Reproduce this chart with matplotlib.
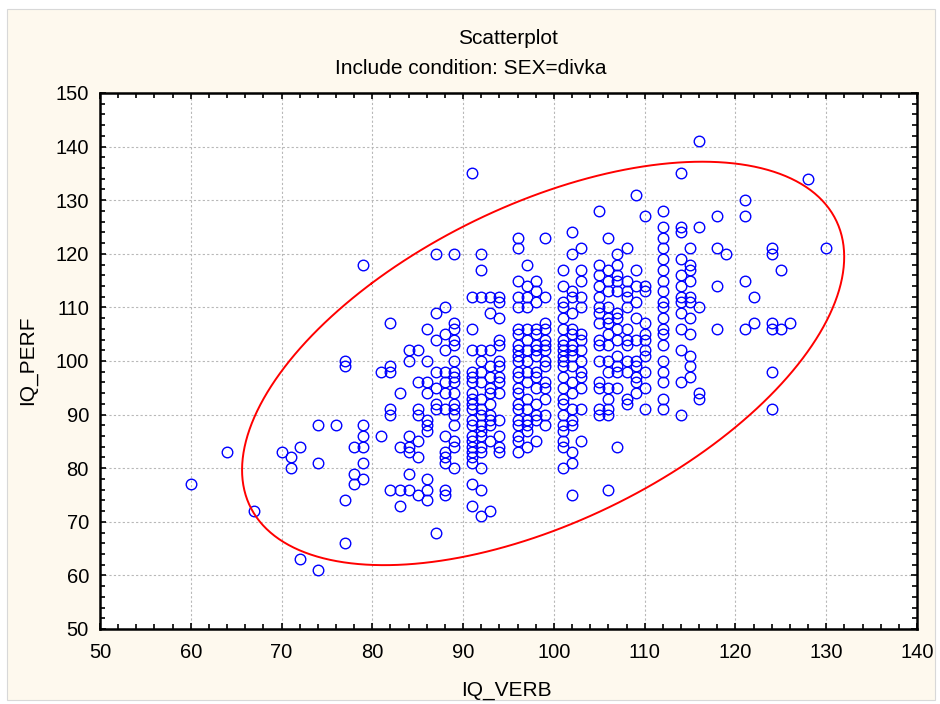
import numpy as np
import matplotlib
matplotlib.use("Agg")
import matplotlib.pyplot as plt
from matplotlib.patches import Rectangle
from matplotlib.ticker import MultipleLocator

plt.rcParams['font.family'] = ['Liberation Sans', 'DejaVu Sans']

title = "Scatterplot"
subtitle = "Include condition: SEX=divka"
x_label = "IQ_VERB"
y_label = "IQ_PERF"

# IQ_VERB value -> list of IQ_PERF values
columns = {
    60: [77],
    64: [83],
    67: [72],
    70: [83],
    71: [82, 80],
    72: [84, 63],
    74: [88, 81, 61],
    76: [88],
    77: [100, 99, 74, 66],
    78: [84, 79, 77],
    79: [118, 88, 86, 84, 81, 78],
    81: [98, 86],
    82: [107, 99, 98, 91, 90, 76],
    83: [94, 84, 76, 73],
    84: [102, 100, 86, 84, 83, 79, 76],
    85: [102, 96, 91, 90, 85, 82, 75],
    86: [106, 100, 96, 94, 89, 88, 87, 78, 76, 74],
    87: [120, 109, 104, 98, 95, 92, 91, 68],
    88: [110, 105, 102, 98, 96, 94, 91, 86, 83, 82, 81, 76, 75],
    89: [120, 107, 106, 104, 103, 100, 98, 97, 96, 94, 92, 91, 90, 88, 85, 84, 80],
    91: [135, 112, 106, 102, 98, 97, 96, 94, 93, 92, 91, 89, 88, 86, 85, 84, 83, 82, 81, 77, 73],
    92: [120, 117, 112, 102, 100, 98, 96, 93, 91, 90, 88, 87, 86, 84, 83, 80, 76, 71],
    93: [112, 109, 102, 99, 97, 95, 94, 92, 90, 89, 88, 85, 72],
    94: [112, 111, 108, 104, 103, 100, 99, 97, 96, 94, 89, 86, 84, 83],
    96: [123, 121, 115, 112, 110, 106, 105, 103, 102, 101, 100, 98, 97, 95, 94, 92, 91, 89, 88, 86, 85, 83],
    97: [118, 114, 112, 110, 106, 104, 102, 100, 98, 96, 93, 91, 89, 88, 87, 84],
    98: [115, 113, 111, 106, 105, 103, 102, 101, 98, 97, 95, 92, 90, 89, 85],
    99: [123, 112, 107, 106, 104, 103, 102, 100, 99, 96, 95, 93, 90, 88],
    101: [117, 114, 111, 110, 108, 106, 104, 103, 102, 101, 100, 99, 97, 95, 93, 92, 90, 88, 87, 85, 84, 80],
    102: [124, 120, 113, 112, 109, 106, 105, 103, 102, 101, 99, 96, 94, 91, 89, 88, 83, 81, 75],
    103: [121, 117, 115, 112, 110, 105, 104, 102, 100, 98, 97, 95, 91, 85],
    105: [128, 118, 116, 114, 112, 110, 109, 107, 104, 103, 100, 96, 95, 91, 90],
    106: [123, 117, 115, 113, 110, 108, 107, 105, 103, 100, 98, 95, 93, 91, 90, 76],
    107: [120, 118, 116, 115, 113, 109, 108, 106, 104, 101, 99, 98, 95, 84],
    108: [121, 115, 113, 112, 110, 106, 104, 103, 100, 98, 93, 92],
    109: [131, 117, 114, 111, 108, 104, 100, 99, 97, 96, 94],
    110: [127, 114, 113, 107, 105, 104, 102, 101, 98, 95, 91],
    112: [128, 125, 123, 121, 119, 117, 115, 113, 111, 110, 108, 106, 105, 103, 100, 98, 96, 93, 91],
    114: [135, 125, 124, 119, 116, 114, 112, 111, 109, 106, 102, 96, 90],
    115: [121, 118, 117, 115, 112, 111, 108, 105, 101, 99, 97],
    116: [141, 125, 110, 94, 93],
    118: [127, 121, 114, 106],
    119: [120],
    121: [130, 127, 115, 106],
    122: [112, 107],
    124: [121, 120, 107, 106, 98, 91],
    125: [117, 106],
    126: [107],
    128: [134],
    130: [121],
}

iq_verb = np.array([k for k, v in columns.items() for _ in v], dtype=float)
iq_perf = np.array([y for v in columns.values() for y in v], dtype=float)

coverage_scale = 2.74  # ellipse size factor
minor_boost = 1.09     # widen the ellipse across its minor axis

fig = plt.figure(figsize=(9.4, 7.04), dpi=100)
fig.patch.set_facecolor('white')
fig.patches.append(Rectangle((7/940, 4/704), 928/940, 691/704, transform=fig.transFigure,
                             facecolor='#FEF9EE', edgecolor='#d8d8d8', lw=0.8, zorder=-10))

ax = fig.add_axes([100/940, 1-629/704, 817/940, 536/704])
ax.set_facecolor('white')
ax.set_xlim(50, 140)
ax.set_ylim(50, 150)
ax.xaxis.set_major_locator(MultipleLocator(10))
ax.yaxis.set_major_locator(MultipleLocator(10))
ax.xaxis.set_minor_locator(MultipleLocator(2))
ax.yaxis.set_minor_locator(MultipleLocator(2))
ax.tick_params(which='both', direction='in', top=True, right=True, width=1.2, color='black')
ax.tick_params(which='major', length=4, labelsize=14.5, pad=10)
ax.tick_params(which='minor', length=3.5)
ax.tick_params(axis='y', which='major', pad=8)
for s in ax.spines.values():
    s.set_linewidth(1.8)
ax.grid(True, which='major', color='#b8b8b8', linestyle=(0, (2, 2)), linewidth=0.8)
ax.set_axisbelow(True)

ax.plot(iq_verb, iq_perf, 'o', markersize=7.6, markerfacecolor='none',
        markeredgecolor='#0000FF', markeredgewidth=1.0, zorder=3)

mean = np.array([iq_verb.mean(), iq_perf.mean()])
cov = np.cov(iq_verb, iq_perf)
vals, vecs = np.linalg.eigh(cov)
radii = np.sqrt(vals) * coverage_scale
radii[0] *= minor_boost
t = np.linspace(0, 2*np.pi, 400)
circle = np.vstack([np.cos(t), np.sin(t)])
ell = (vecs @ np.diag(radii) @ circle) + mean[:, None]
ax.plot(ell[0], ell[1], color='#FF0000', lw=1.4, zorder=4)

fig.text(508/940, 1-38/704, title, ha='center', va='center', fontsize=15)
fig.text(471/940, 1-68/704, subtitle, ha='center', va='center', fontsize=15)
fig.text(506/940, 1-690/704, x_label, ha='center', va='center', fontsize=15)
fig.text(28/940, 1-360/704, y_label, ha='center', va='center', fontsize=15, rotation=90)

fig.savefig('out.png', dpi=100, facecolor=fig.get_facecolor())
